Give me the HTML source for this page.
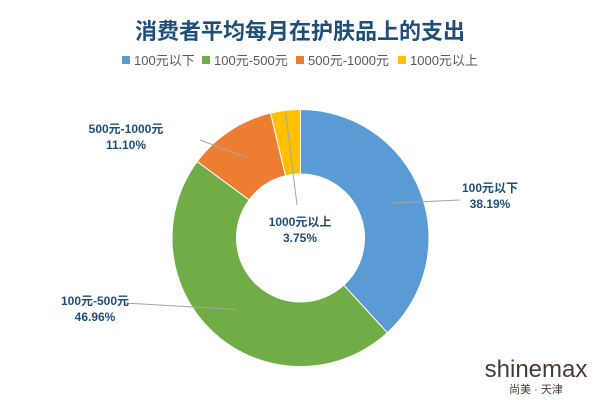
<!DOCTYPE html>
<html><head><meta charset="utf-8"><style>
body{margin:0;width:600px;height:400px;background:#fff;overflow:hidden;font-family:"Liberation Sans","Noto Sans CJK SC",sans-serif}
svg{position:absolute;left:0;top:0}
</style></head><body>
<svg width="600" height="400">
<text x="300" y="39" text-anchor="middle" font-size="22" font-weight="bold" fill="#1f4e79">消费者平均每月在护肤品上的支出</text>
<g id="legend"></g>
<g id="slices"></g>
<g id="labels"></g>
<text x="536" y="377" text-anchor="middle" font-size="24" fill="#4a3a30">shinemax</text>
<text x="536" y="393" text-anchor="middle" font-size="11" fill="#4a3a30">尚美 · 天津</text>
</svg>
<script>
const categories=["100元以下","100元-500元","500元-1000元","1000元以上"];
const values=[38.19,46.96,11.10,3.75];
const colors=["#5b9bd5","#70ad47","#ed7d31","#ffc000"];
const NS="http://www.w3.org/2000/svg";
const cx=300.5,cy=238,R=128.5,r=64;
function mk(t,a){const e=document.createElementNS(NS,t);for(const k in a)e.setAttribute(k,a[k]);return e;}
const total=values.reduce((a,b)=>a+b,0);
function pt(ang,rad){return [cx+rad*Math.sin(ang),cy-rad*Math.cos(ang)];}
// legend
const lg=document.getElementById('legend');
const lx=[128,208,302,404];
categories.forEach((c,i)=>{
 const s=mk('rect',{x:lx[i]-6,y:56,width:8,height:8,fill:colors[i]});
 
 
 lg.appendChild(s);
 const t=mk('text',{x:lx[i]+6,y:65,'font-size':13,fill:'#595959'});t.textContent=c;
 
 
 lg.appendChild(t);
});
// slices
const sg=document.getElementById('slices');
let a0=0;const mids=[];
values.forEach((v,i)=>{
 const a1=a0+v/total*2*Math.PI;
 const [x0,y0]=pt(a0,R),[x1,y1]=pt(a1,R),[x2,y2]=pt(a1,r),[x3,y3]=pt(a0,r);
 const lf=(a1-a0)>Math.PI?1:0;
 const p=mk('path',{d:`M${x0},${y0}A${R},${R} 0 ${lf} 1 ${x1},${y1}L${x2},${y2}A${r},${r} 0 ${lf} 0 ${x3},${y3}Z`,fill:colors[i],stroke:'#fff','stroke-width':1});
 
 
 sg.appendChild(p);
 mids.push((a0+a1)/2);a0=a1;
});
// labels
const lab=document.getElementById('labels');
const lpos=[[490,192,'middle',460,200],[95,305,'middle',125,303],[126,133,'middle',200,140],[300,226,'middle',297,205]];
values.forEach((v,i)=>{
 const [m1,m2]=pt(mids[i],(R+r)/2+ (i==3?30:0));
 const L=lpos[i];
 const ln=mk('line',{x1:m1,y1:m2,x2:L[3],y2:L[4],stroke:'#a6a6a6','stroke-width':1});
 
 
 lab.appendChild(ln);
 const t=mk('text',{x:L[0],y:L[1],'text-anchor':L[2],'font-size':12,'font-weight':'bold',fill:'#1f4e79'});
 t.textContent=categories[i];
 
 
 lab.appendChild(t);
 const t2=mk('text',{x:L[0],y:L[1]+16,'text-anchor':L[2],'font-size':12,'font-weight':'bold',fill:'#1f4e79'});
 t2.textContent=v.toFixed(2)+'%';
 
 
 lab.appendChild(t2);
});
</script>
</body></html>
